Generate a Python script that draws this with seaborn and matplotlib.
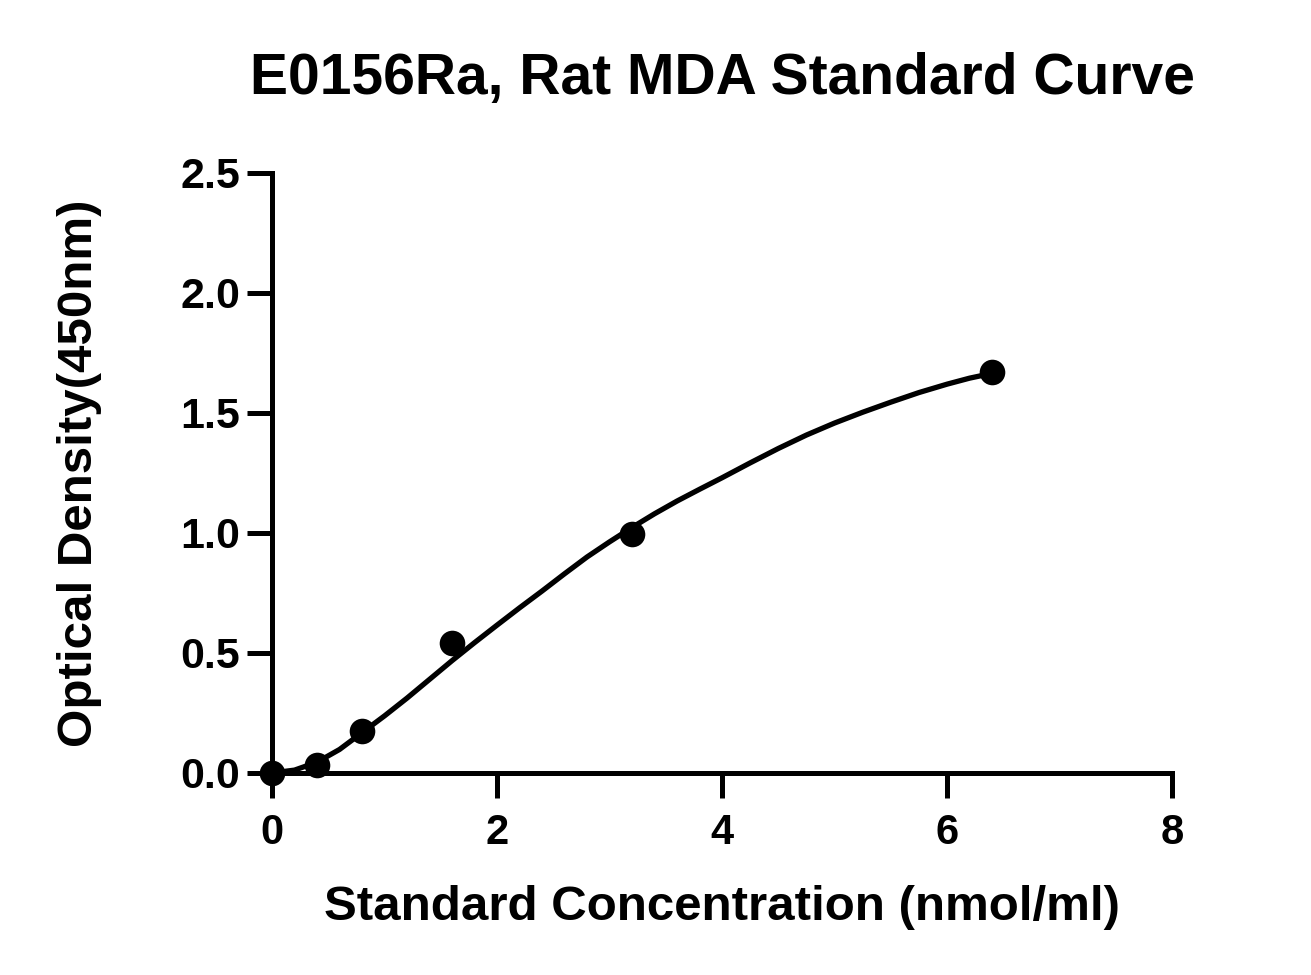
import matplotlib
matplotlib.use("Agg")
import matplotlib.pyplot as plt
import pandas as pd
import seaborn as sns

sns.set_style("ticks", rc={"axes.edgecolor": "black", "text.color": "black",
                           "axes.labelcolor": "black", "xtick.color": "black",
                           "ytick.color": "black"})
plt.rcParams['font.family'] = ['Liberation Sans', 'DejaVu Sans']

# standard points
conc = [0.0, 0.4, 0.8, 1.6, 3.2, 6.4]
od = [0.0, 0.033, 0.175, 0.54, 0.996, 1.67]

# fitted curve
curve_x = [0.0, 0.2, 0.4, 0.6, 0.8, 1.0, 1.2, 1.4, 1.6, 1.8, 2.0, 2.2, 2.4, 2.6, 2.8,
           3.0, 3.2, 3.4, 3.6, 3.8, 4.0, 4.25, 4.5, 4.75, 5.0, 5.25, 5.5, 5.75,
           6.0, 6.2, 6.4]
curve_y = [0.0, 0.012, 0.045, 0.098, 0.168, 0.238, 0.312, 0.39, 0.468, 0.543, 0.616,
           0.688, 0.758, 0.83, 0.9, 0.963, 1.023, 1.08, 1.133, 1.182, 1.23, 1.292,
           1.352, 1.408, 1.458, 1.503, 1.545, 1.585, 1.62, 1.645, 1.665]

pts = pd.DataFrame({"conc": conc, "od": od})
fit = pd.DataFrame({"x": curve_x, "y": curve_y})

fig = plt.figure(figsize=(13.11, 9.75), dpi=100)
ax = fig.add_axes([0.2075, 0.2072, 0.894 - 0.2075, 0.8226 - 0.2072])

sns.lineplot(data=fit, x="x", y="y", ax=ax, color="black", linewidth=3.8,
             solid_joinstyle="round", solid_capstyle="round", zorder=2)
sns.scatterplot(data=pts, x="conc", y="od", ax=ax, color="black", s=340,
                edgecolor="black", linewidth=0, zorder=3, clip_on=False)

ax.set_xlim(0, 8)
ax.set_ylim(0, 2.5)
ax.set_xticks([0, 2, 4, 6, 8])
ax.set_yticks([0, 0.5, 1.0, 1.5, 2.0, 2.5])
ax.set_yticklabels(["0.0", "0.5", "1.0", "1.5", "2.0", "2.5"])

sns.despine(ax=ax)
for side in ["left", "bottom"]:
    ax.spines[side].set_linewidth(3.6)
ax.tick_params(axis="both", width=3.6, length=18, color="black")
ax.tick_params(axis="y", labelsize=31, pad=5)
ax.tick_params(axis="x", labelsize=30, pad=11)
for lab in ax.get_xticklabels() + ax.get_yticklabels():
    lab.set_fontweight("bold")

ax.set_xlabel("Standard Concentration (nmol/ml)", fontsize=35.5, fontweight="bold", labelpad=23)
ax.set_ylabel("Optical Density(450nm)", fontsize=35.5, fontweight="bold", labelpad=56)
ax.set_title("E0156Ra, Rat MDA Standard Curve", fontsize=41, fontweight="bold", pad=57)

fig.savefig("out.png", dpi=100)
